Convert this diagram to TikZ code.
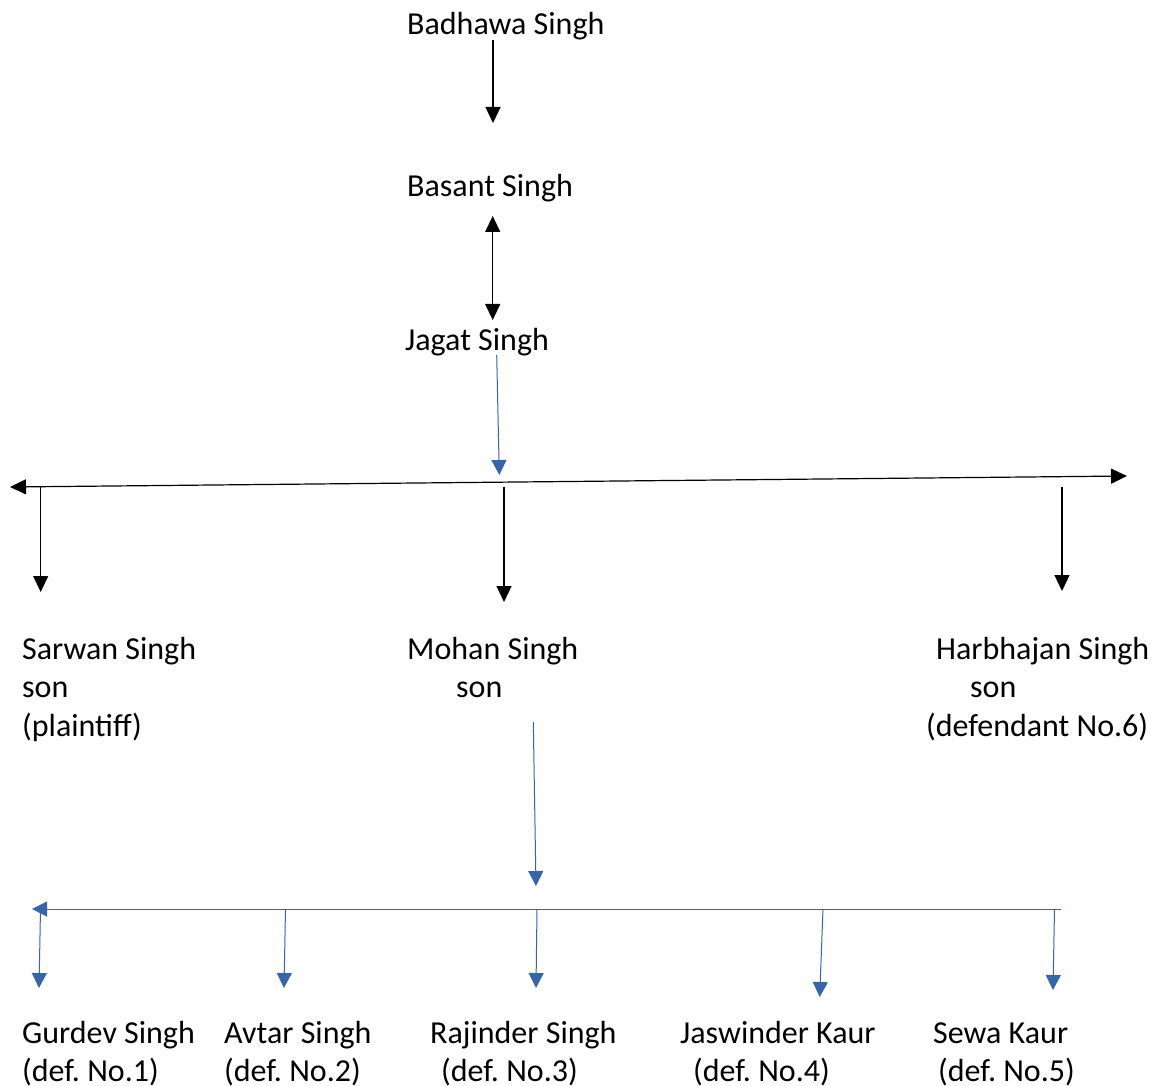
\documentclass[tikz,border=0pt]{standalone}
\usepackage{fontspec}
\setmainfont{Carlito}
\usetikzlibrary{arrows.meta}
\definecolor{lineblue}{RGB}{56,100,168}
\frenchspacing

\begin{document}
\begin{tikzpicture}[x=1pt,y=-1pt,
	person/.style = {inner sep=0pt, anchor=base west, align=left, font=\fontsize{32}{38.5}\selectfont},
	kin/.style = {draw=black, line width=1.2pt, -{Triangle[length=16pt,width=15pt]}},
	heir/.style = {draw=lineblue, line width=1pt, -{Triangle[length=15pt,width=15pt]}}]
			\useasboundingbox (0,0) rectangle (1160,1086);
			% family (base = last line)
			\node[person] (badhawa) at (407,35) {Badhawa Singh};
			\node[person] (basant) at (407,197) {Basant Singh};
			\node[person] (jagat) at (405,350) {Jagat Singh};
			\node[person] (sarwan) at (22,736) {Sarwan Singh\\son\\(plaintiff)};
			\node[person] (mohan) at (407,697.5) {Mohan Singh\\\hspace*{49pt}son};
			\node[person] (harbhajan) at (926,736) {\hspace*{10pt}Harbhajan Singh\\\hspace*{44pt}son\\(defendant No.6)};
			\node[person] (gurdev) at (22,1081.5) {Gurdev Singh\\(def. No.1)};
			\node[person] (avtar) at (224,1081.5) {Avtar Singh\\(def. No.2)};
			\node[person] (rajinder) at (430,1081.5) {Rajinder Singh\\\hspace*{11pt}(def. No.3)};
			\node[person] (jaswinder) at (680,1081.5) {Jaswinder Kaur\\\hspace*{13pt}(def. No.4)};
			\node[person] (sewa) at (933,1081.5) {Sewa Kaur\\\hspace*{5pt}(def. No.5)};
			% arrow ends
			\coordinate (badhawa-out) at (493,40);
			\coordinate (basant-in) at (493,123);
			\coordinate (basant-out) at (492.7,216);
			\coordinate (jagat-in) at (492.7,320);
			\coordinate (jagat-out) at (496.7,355);
			\coordinate (sons-in) at (499.3,475);
			\coordinate (sons-l) at (10,487);
			\coordinate (sons-r) at (1127,476);
			\coordinate (mohan-out) at (533.3,722);
			\coordinate (heirs-in) at (536,886);
			\coordinate (heirs-l) at (32,909);
			\coordinate (heirs-r) at (1061,909);
			\draw[kin] (badhawa-out) -- (basant-in);
			\draw[kin, {Triangle[length=16pt,width=15pt]}-{Triangle[length=16pt,width=15pt]}] (basant-out) -- (jagat-in);
			\draw[heir] (jagat-out) -- (sons-in);
			\draw[kin, {Triangle[length=16pt,width=15pt]}-{Triangle[length=16pt,width=15pt]}] (sons-l) -- (sons-r);
			\draw[kin] (40.7,487) -- (40.7,592);
			\draw[kin] (504,487) -- (504,602);
			\draw[kin] (1062,487) -- (1062,591);
			\draw[heir] (mohan-out) -- (heirs-in);
			\draw[heir] (heirs-r) -- (heirs-l);
			\draw[heir] (40.5,909) -- (39,988);
			\draw[heir] (285.5,909) -- (284,988);
			\draw[heir] (537,909) -- (536,988);
			\draw[heir] (823,909) -- (819.7,997);
			\draw[heir] (1054.5,909) -- (1053,990);
		\end{tikzpicture}
\end{document}
